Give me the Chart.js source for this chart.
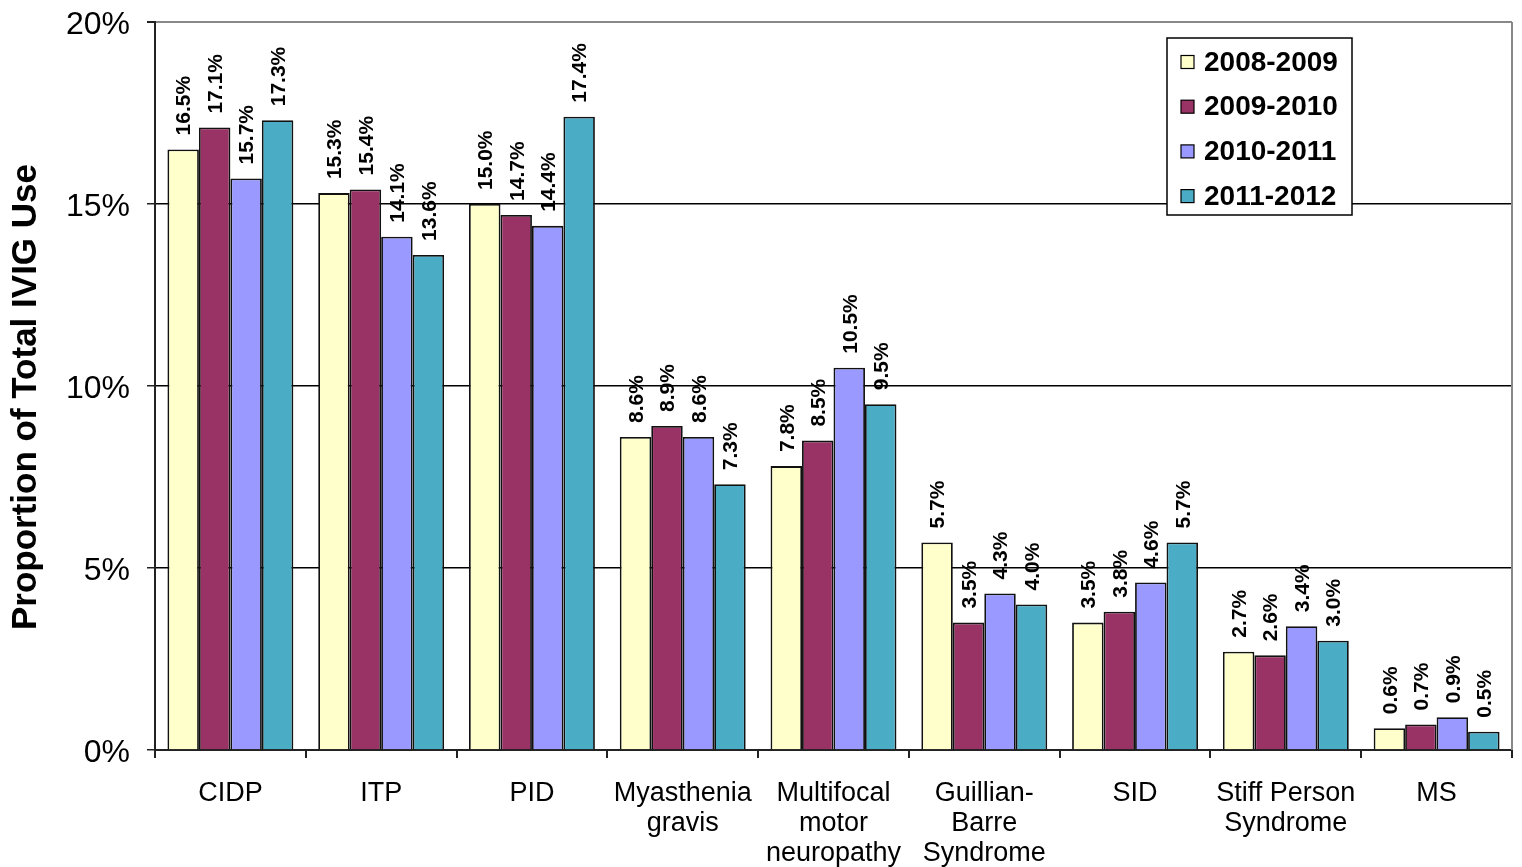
<!DOCTYPE html>
<html>
<head>
<meta charset="utf-8">
<script src="https://cdn.jsdelivr.net/npm/chart.js@4"></script>
<style>
  html, body { margin: 0; padding: 0; background: #fff; }
  #wrap { width: 1522px; height: 867px; }
</style>
</head>
<body>
<div id="wrap"><canvas id="c" width="1522" height="867"></canvas></div>
<script>
// Indications (multi-line labels as arrays)
const categories = [
  'CIDP', 'ITP', 'PID', ['Myasthenia', 'gravis'], ['Multifocal', 'motor', 'neuropathy'],
  ['Guillian-', 'Barre', 'Syndrome'], 'SID', ['Stiff Person', 'Syndrome'], 'MS'
];

// Share of total IVIG use (%) per fiscal year
const fy2008_09 = [16.5, 15.3, 15.0, 8.6, 7.8, 5.7, 3.5, 2.7, 0.6];
const fy2009_10 = [17.1, 15.4, 14.7, 8.9, 8.5, 3.5, 3.8, 2.6, 0.7];
const fy2010_11 = [15.7, 14.1, 14.4, 8.6, 10.5, 4.3, 4.6, 3.4, 0.9];
const fy2011_12 = [17.3, 13.6, 17.4, 7.3, 9.5, 4.0, 5.7, 3.0, 0.5];

const seriesNames = ['2008-2009', '2009-2010', '2010-2011', '2011-2012'];
const seriesColors = ['#FFFFCC', '#993366', '#9999FF', '#4BACC6'];

const yTicks = [0, 5, 10, 15, 20];
const yTitle = 'Proportion of Total IVIG Use';

const FONT = '"Liberation Sans", Arial, Helvetica, sans-serif';

// Rotated value labels above every bar
const barLabels = {
  id: 'barLabels',
  afterDatasetsDraw(chart) {
    const ctx = chart.ctx;
    ctx.save();
    ctx.font = 'bold 21px ' + FONT;
    ctx.fillStyle = '#000';
    ctx.textAlign = 'left';
    ctx.textBaseline = 'middle';
    chart.data.datasets.forEach((ds, di) => {
      const meta = chart.getDatasetMeta(di);
      meta.data.forEach((bar, i) => {
        const txt = ds.data[i].toFixed(1) + '%';
        ctx.save();
        ctx.translate(bar.x + 1.5, bar.y - 14);
        ctx.rotate(-Math.PI / 2);
        ctx.fillText(txt, 0, 0);
        ctx.restore();
      });
    });
    ctx.restore();
  }
};

// Right-hand plot frame line and the rotated value-axis title
const frame = {
  id: 'frame',
  beforeDatasetsDraw(chart) {
    const { ctx, chartArea: a } = chart;
    ctx.save();
    ctx.strokeStyle = '#888';
    ctx.lineWidth = 2;
    ctx.beginPath();
    ctx.moveTo(a.right, a.top);
    ctx.lineTo(a.right, a.bottom);
    ctx.stroke();

    ctx.translate(26, (a.top + a.bottom) / 2 + 11);
    ctx.rotate(-Math.PI / 2);
    ctx.font = 'bold 35px ' + FONT;
    ctx.fillStyle = '#000';
    ctx.textAlign = 'center';
    ctx.textBaseline = 'middle';
    ctx.fillText(yTitle, 0, 0);
    ctx.restore();
  }
};

// Boxed legend inside the plot, upper right
const boxLegend = {
  id: 'boxLegend',
  afterDraw(chart) {
    const ctx = chart.ctx;
    const x = 1167, y = 38, w = 185, h = 177;
    ctx.save();
    ctx.fillStyle = '#fff';
    ctx.fillRect(x, y, w, h);
    ctx.strokeStyle = '#000';
    ctx.lineWidth = 1.5;
    ctx.strokeRect(x, y, w, h);
    ctx.font = 'bold 28px ' + FONT;
    ctx.textAlign = 'left';
    ctx.textBaseline = 'middle';
    chart.data.datasets.forEach((ds, i) => {
      const cy = y + 24 + i * 44.7;
      ctx.fillStyle = ds.backgroundColor;
      ctx.fillRect(x + 14, cy - 6.5, 13, 13);
      ctx.lineWidth = 1.2;
      ctx.strokeStyle = '#000';
      ctx.strokeRect(x + 14, cy - 6.5, 13, 13);
      ctx.fillStyle = '#000';
      ctx.fillText(ds.label, x + 37, cy + 1);
    });
    ctx.restore();
  }
};

const seriesData = [fy2008_09, fy2009_10, fy2010_11, fy2011_12];

new Chart(document.getElementById('c'), {
  type: 'bar',
  data: {
    labels: categories,
    datasets: seriesNames.map((name, i) => ({
      label: name,
      data: seriesData[i],
      backgroundColor: seriesColors[i],
      borderColor: '#111',
      borderWidth: 1.8,
      categoryPercentage: 0.835,
      barPercentage: 1.0
    }))
  },
  options: {
    responsive: false,
    animation: false,
    events: [],
    layout: { padding: { top: 22, right: 10, left: 0, bottom: 0 } },
    plugins: {
      legend: { display: false },
      tooltip: { enabled: false }
    },
    scales: {
      x: {
        afterFit(scale) {
          scale.height = 117;
          scale.paddingLeft = 0;
          scale.paddingRight = 0;
        },
        grid: {
          offset: true,
          drawOnChartArea: false,
          drawTicks: true,
          tickLength: 8,
          tickColor: '#222',
          lineWidth: 2
        },
        border: { color: '#222', width: 2 },
        ticks: {
          color: '#000',
          padding: 21,
          maxRotation: 0,
          autoSkip: false,
          font: { family: FONT, size: 27, lineHeight: 1.11 }
        }
      },
      y: {
        min: 0,
        max: 20,
        afterFit(scale) {
          scale.width = 155;
          scale.paddingTop = 0;
          scale.paddingBottom = 0;
        },
        afterBuildTicks(scale) { scale.ticks = yTicks.map(v => ({ value: v })); },
        grid: {
          color: c => (c.tick && c.tick.value === 20) ? '#888' : '#000',
          lineWidth: c => (c.tick && c.tick.value === 20) ? 2 : 1.5,
          tickColor: '#222',
          tickLength: 8,
          drawTicks: true
        },
        border: { color: '#222', width: 2 },
        ticks: {
          color: '#000',
          padding: 17,
          labelOffset: 3,
          font: { family: FONT, size: 32 },
          callback: v => v + '%'
        }
      }
    }
  },
  plugins: [frame, barLabels, boxLegend]
});
</script>
</body>
</html>
